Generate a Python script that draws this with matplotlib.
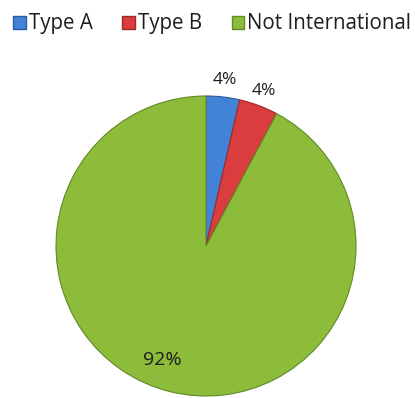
import numpy as np
import matplotlib.pyplot as plt
from matplotlib.patches import Patch

categories = ['Type A', 'Type B', 'Not International']
shares = [3.6, 4.2, 92.2]
labels = ['4%', '4%', '92%']

colors = ['#4283d8', '#d93d3d', '#8dbb3a']
edges = ['#2a5a9c', '#9c2a2a', '#5f8a25']
label_dist = [1.115, 1.105, 0.78]

plt.rcParams['font.family'] = ['Open Sans', 'DejaVu Sans']

fig = plt.figure(figsize=(4.15, 3.98), dpi=100)
ax = fig.add_axes([56 / 415, 2 / 398, 300 / 415, 300 / 398])

wedges, _ = ax.pie(shares, colors=colors, startangle=90, counterclock=False,
                   wedgeprops=dict(linewidth=0.8))
for w, ec in zip(wedges, edges):
    w.set_edgecolor(ec)

# put the percent labels by hand, small slices outside, big one inside
for w, lab, d in zip(wedges, labels, label_dist):
    ang = np.deg2rad((w.theta1 + w.theta2) / 2)
    x, y = d * np.cos(ang), d * np.sin(ang)
    if lab == '92%':
        x -= 0.1
    size = 14 if lab == '92%' else 12.5
    ax.text(x, y, lab, ha='center', va='center', fontsize=size, color='#1e1e1e',
            fontweight='medium')

ax.set_xlim(-1, 1)
ax.set_ylim(-1, 1)
ax.axis('off')

handles = [Patch(facecolor=c, edgecolor=e, label=n) for c, e, n in zip(colors, edges, categories)]
leg = fig.legend(handles=handles, loc='upper left', bbox_to_anchor=(0.0, 1.0), ncol=3,
                 frameon=False, fontsize=14.8, handlelength=0.6, handleheight=0.6,
                 handletextpad=0.15, columnspacing=1.45, borderpad=0.15)
for t in leg.get_texts():
    t.set_color('#1e1e1e')

fig.savefig('out.png', dpi=100)
